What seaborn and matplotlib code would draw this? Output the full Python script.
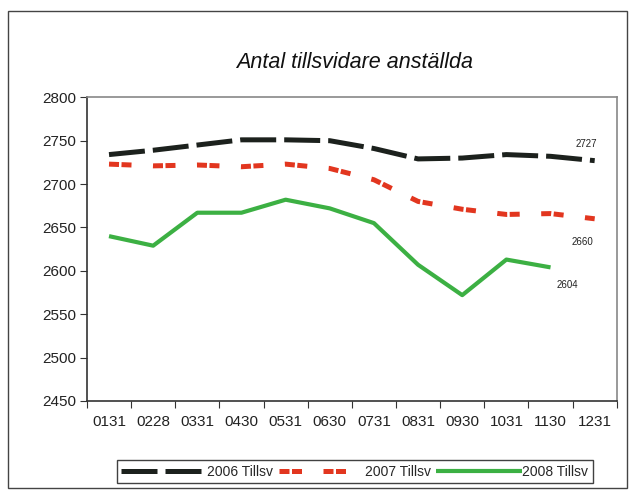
import numpy as np
import pandas as pd
import matplotlib
matplotlib.use("Agg")
import matplotlib.pyplot as plt
from matplotlib.patches import Rectangle
import seaborn as sns

categories = ["0131", "0228", "0331", "0430", "0531", "0630",
              "0731", "0831", "0930", "1031", "1130", "1231"]
s2006 = [2734, 2739, 2745, 2751, 2751, 2750, 2741, 2729, 2730, 2734, 2732, 2727]
s2007 = [2723, 2721, 2722, 2720, 2723, 2718, 2705, 2680, 2671, 2665, 2666, 2660]
s2008 = [2640, 2629, 2667, 2667, 2682, 2672, 2655, 2607, 2572, 2613, 2604, np.nan]
series_names = ["2006 Tillsv", "2007 Tillsv", "2008 Tillsv"]
yticks = [2450, 2500, 2550, 2600, 2650, 2700, 2750, 2800]
title = "Antal tillsvidare anställda"

sns.set_theme(style="white")
plt.rcParams['font.family'] = ['Liberation Sans', 'DejaVu Sans']

df = pd.DataFrame({"cat": categories, "2006 Tillsv": s2006,
                   "2007 Tillsv": s2007, "2008 Tillsv": s2008})
df["x"] = np.arange(len(categories))

fig = plt.figure(figsize=(6.3, 4.91), dpi=100)
ax = fig.add_axes([0.138, 0.1833, 0.841, 0.6185])

styles = {
    "2006 Tillsv": dict(color="#1c211d", lw=3.6, dashes=(7.2, 1.6)),
    "2007 Tillsv": dict(color="#e2361f", lw=3.6, dashes=(2.0, 0.5, 2.0, 4.3)),
    "2008 Tillsv": dict(color="#3cb043", lw=3.0, dashes=None),
}
for name in series_names:
    st = styles[name]
    sns.lineplot(data=df, x="x", y=name, ax=ax, color=st["color"],
                 linewidth=st["lw"], label=name, sort=False)
    line = ax.lines[-1]
    if st["dashes"] is not None:
        line.set_dashes(st["dashes"])
        line.set_dash_capstyle("butt")
    line.set_solid_capstyle("butt")

ax.set_xlim(-0.5, len(categories) - 0.5)
ax.set_ylim(yticks[0], yticks[-1])
ax.set_yticks(yticks)
ax.set_xticks(df["x"])
ax.set_xticklabels(categories)
ax.set_xticks(np.arange(-0.5, len(categories), 1.0), minor=True)
ax.tick_params(axis="x", which="major", length=0, pad=10, labelsize=11, colors="#222222")
ax.tick_params(axis="x", which="minor", length=5, width=0.8, color="#333333", direction="out", bottom=True)
ax.tick_params(axis="y", which="major", length=5, width=0.8, color="#333333", direction="out",
               left=True, labelsize=11, colors="#222222", pad=3)
ax.set_xlabel("")
ax.set_ylabel("")
for side in ["top", "right"]:
    ax.spines[side].set_color("#888888")
    ax.spines[side].set_linewidth(1.2)
for side in ["left", "bottom"]:
    ax.spines[side].set_color("#333333")
    ax.spines[side].set_linewidth(1.2)
ax.grid(False)

# data labels for the last points
ax.annotate(f"{s2006[-1]}", xy=(11, s2006[-1]), xytext=(-6, 12), textcoords="offset points",
            ha="center", va="center", fontsize=7, color="#222222")
ax.annotate(f"{s2007[-1]}", xy=(11, s2007[-1]), xytext=(-9, -16.5), textcoords="offset points",
            ha="center", va="center", fontsize=7, color="#222222")
ax.annotate(f"{s2008[10]}", xy=(10, s2008[10]), xytext=(12, -12.5), textcoords="offset points",
            ha="center", va="center", fontsize=7, color="#222222")

fig.text(0.563, 0.873, title, ha="center", va="center", fontsize=15.5, style="italic", color="#111111")

leg = ax.legend(loc="center", bbox_to_anchor=(0.563, 0.0397), bbox_transform=fig.transFigure,
                ncol=3, frameon=True, fancybox=False, shadow=False, fontsize=10,
                handlelength=6.2, handletextpad=0.0, columnspacing=0.4, borderpad=0.3,
                borderaxespad=0)
leg.get_frame().set_edgecolor("#111111")
leg.get_frame().set_linewidth(1.0)

fig.patches.append(Rectangle((8 / 630, 1 - 488 / 491), 619 / 630, 477 / 491,
                             transform=fig.transFigure, fill=False, edgecolor="#444444",
                             linewidth=1.0))

fig.savefig("out.png", dpi=100)
